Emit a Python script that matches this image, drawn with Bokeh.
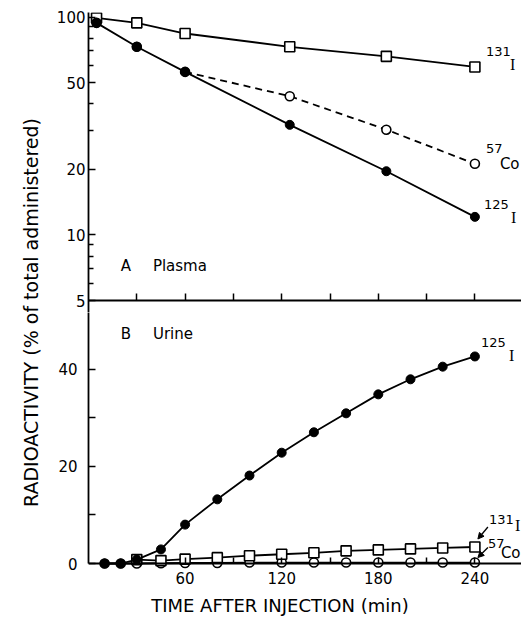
import math
from bokeh.plotting import figure
from bokeh.layouts import row, column
from bokeh.models import (Range1d, LinearAxis, FixedTicker, Label, Arrow,
                          NormalHead, BasicTickFormatter)
from bokeh.embed import file_html
from bokeh.resources import INLINE

# ---------------- data ----------------
plasma_time = [5, 30, 60, 125, 185, 240]
plasma_i131 = [99, 94, 84, 73, 66, 59]
plasma_i125 = [94, 73, 56, 32, 19.6, 12.1]
plasma_co57 = [94, 73, 56, 43.3, 30.4, 21.2]

NA = float("nan")
urine_time = [10, 20, 30, 45, 60, 80, 100, 120, 140, 160, 180, 200, 220, 240]
urine_i125 = [0, 0, 0.8, 2.9, 8.0, 13.2, 18.1, 22.8, 27.0, 30.9, 34.8, 37.9, 40.5, 42.6]
urine_i131 = [NA, NA, 0.8, 0.6, 0.9, 1.2, 1.6, 1.9, 2.2, 2.6, 2.8, 3.0, 3.2, 3.4]
urine_co57 = [0, 0, 0, 0.05, 0.1, 0.1, 0.2, 0.2, 0.2, 0.2, 0.2, 0.2, 0.2, 0.2]

x_ticks = [60, 120, 180, 240]
x_minor = [30, 90, 150, 210]
plasma_ticks = [5, 10, 20, 50, 100]
plasma_minor = [6, 7, 8, 9, 30, 40, 60, 70, 80, 90]
urine_ticks = [0, 20, 40]
urine_minor = [10, 30]

# ---------------- geometry ----------------
FONT = "DejaVu Sans"
TITLE_W = 46
LEFT = 42
FRAME_W = 433
PX_X = 1.61
PX_Y = 4.86
DEC = 217.9
GAP = 12                     # px of the plasma frame below the "5" line
TOP_H = 288 + GAP
BOT_H = 271 - GAP
x_range = Range1d(0, FRAME_W / PX_X)
LOG_TOP = 5 * 10 ** (288 / DEC)
LOG_BOT = 5 / 10 ** (GAP / DEC)
U_START = -8 / PX_Y
U_END = (BOT_H - 8) / PX_Y


def style_axis(ax, tick_in=7, minor_in=5, standoff=4):
    ax.axis_line_width = 1.8
    ax.axis_line_color = "black"
    ax.major_tick_in = tick_in
    ax.major_tick_out = 0
    ax.minor_tick_in = minor_in
    ax.minor_tick_out = 0
    ax.major_tick_line_width = 1.5
    ax.minor_tick_line_width = 1.5
    ax.major_label_text_font = FONT
    ax.major_label_text_font_size = "15px"
    ax.major_label_text_color = "black"
    ax.major_label_standoff = standoff


def lab(fig, text, x, y, xo=0, yo=0, size="15px", font=FONT, align="left", angle=0):
    fig.add_layout(Label(x=x, y=y, x_offset=xo, y_offset=yo, text=text,
                         text_font=font, text_font_size=size, text_color="black",
                         text_align=align, text_baseline="middle", angle=angle))


LW = 1.8
SUP = "13px"
SERIF = "Liberation Serif"
SQ, CI = 10, 9

# ================= top panel: plasma (log) =================
top = figure(frame_width=FRAME_W, frame_height=TOP_H, x_range=x_range,
             y_range=Range1d(LOG_BOT, LOG_TOP), y_axis_type="log",
             x_axis_location=None, y_axis_location=None,
             toolbar_location=None, output_backend="svg",
             min_border_left=LEFT, min_border_right=0, min_border_top=12,
             min_border_bottom=0, outline_line_color=None)
top.grid.visible = False

ty = LinearAxis(ticker=FixedTicker(ticks=plasma_ticks, minor_ticks=plasma_minor),
                formatter=BasicTickFormatter(use_scientific=False),
                bounds=(LOG_BOT, LOG_TOP))
style_axis(ty, 7, 5, 3)
top.add_layout(ty, "left")

# panel boundary at 5 % with upward ticks
tx = LinearAxis(ticker=FixedTicker(ticks=x_minor + x_ticks, minor_ticks=[]),
                fixed_location=5,
                major_label_overrides={t: "" for t in x_minor + x_ticks})
style_axis(tx, 7, 0, 0)
tx.axis_line_width = 2
tx.major_label_text_font_size = "0px"
top.add_layout(tx, "below")

top.line(plasma_time, plasma_i131, line_width=LW, color="black")
top.line(plasma_time[2:], plasma_co57[2:], line_width=LW, color="black", line_dash="7 5")
top.line(plasma_time, plasma_i125, line_width=LW, color="black")
top.scatter(plasma_time, plasma_i131, marker="square", size=SQ,
            fill_color="white", line_color="black", line_width=1.6)
top.scatter(plasma_time, plasma_co57, marker="circle", size=CI,
            fill_color="white", line_color="black", line_width=1.6)
top.scatter(plasma_time, plasma_i125, marker="circle", size=CI,
            fill_color="black", line_color="black")

lab(top, "131", plasma_time[-1], plasma_i131[-1], 11, 15, SUP)
lab(top, "I", plasma_time[-1], plasma_i131[-1], 35, 2, "16px", SERIF)
lab(top, "57", plasma_time[-1], plasma_co57[-1], 11, 15, SUP)
lab(top, "Co", plasma_time[-1], plasma_co57[-1], 25, 0, "15px")
lab(top, "125", plasma_time[-1], plasma_i125[-1], 9, 12, SUP)
lab(top, "I", plasma_time[-1], plasma_i125[-1], 36, -1, "16px", SERIF)
lab(top, "A", 20, 7.2)
lab(top, "Plasma", 40, 7.2)

# ================= bottom panel: urine (linear) =================
bot = figure(frame_width=FRAME_W, frame_height=BOT_H, x_range=x_range,
             y_range=Range1d(U_START, U_END),
             x_axis_location=None, y_axis_location=None,
             toolbar_location=None, output_backend="svg",
             min_border_left=LEFT, min_border_right=0, min_border_top=0,
             min_border_bottom=18, outline_line_color=None)
bot.grid.visible = False

by = LinearAxis(ticker=FixedTicker(ticks=urine_ticks, minor_ticks=urine_minor),
                bounds=(0, U_END))
style_axis(by, 7, 7, 11)
bot.add_layout(by, "left")

# baseline at 0 with inward ticks
bx0 = LinearAxis(ticker=FixedTicker(ticks=x_minor + x_ticks, minor_ticks=[]),
                 fixed_location=0,
                 major_label_overrides={t: "" for t in x_minor + x_ticks})
style_axis(bx0, 6, 0, 0)
bx0.major_label_text_font_size = "0px"
bot.add_layout(bx0, "below")

# tick labels row
bx = LinearAxis(ticker=FixedTicker(ticks=x_ticks, minor_ticks=[]))
style_axis(bx, 0, 0, 0)
bx.axis_line_color = None
bx.major_tick_line_color = None
bot.add_layout(bx, "below")

bot.line(urine_time, urine_co57, line_width=LW, color="black")
bot.line(urine_time, urine_i131, line_width=LW, color="black")
bot.line(urine_time, urine_i125, line_width=LW, color="black")
bot.scatter(urine_time, urine_co57, marker="circle", size=CI,
            fill_color="white", line_color="black", line_width=1.6)
bot.scatter(urine_time, urine_i131, marker="square", size=SQ,
            fill_color="white", line_color="black", line_width=1.6)
bot.scatter(urine_time, urine_i125, marker="circle", size=CI,
            fill_color="black", line_color="black")

lab(bot, "125", urine_time[-1], urine_i125[-1], 6, 14, SUP)
lab(bot, "I", urine_time[-1], urine_i125[-1], 34, 1, "16px", SERIF)
lab(bot, "131", urine_time[-1], urine_i131[-1], 14, 27, SUP)
lab(bot, "I", urine_time[-1], urine_i131[-1], 40, 21, "16px", SERIF)
lab(bot, "57", urine_time[-1], urine_co57[-1], 13, 19, SUP)
lab(bot, "Co", urine_time[-1], urine_co57[-1], 26, 10, "15px")

head = dict(size=6, fill_color="black", line_color="black")
bot.add_layout(Arrow(end=NormalHead(**head),
                     x_start=urine_time[-1] + 13 / PX_X, y_start=urine_i131[-1] + 20 / PX_Y,
                     x_end=urine_time[-1] + 3 / PX_X, y_end=urine_i131[-1] + 8 / PX_Y,
                     line_width=1.3, line_color="black"))
bot.add_layout(Arrow(end=NormalHead(**head),
                     x_start=urine_time[-1] + 13 / PX_X, y_start=urine_co57[-1] + 15 / PX_Y,
                     x_end=urine_time[-1] + 3 / PX_X, y_end=urine_co57[-1] + 5 / PX_Y,
                     line_width=1.3, line_color="black"))

lab(bot, "B", 20, 47.3)
lab(bot, "Urine", 40, 47.3)

# ================= title strips =================
TH = 590
ytitle = figure(width=TITLE_W, height=TH, x_range=Range1d(0, TITLE_W),
                y_range=Range1d(TH, 0), x_axis_location=None, y_axis_location=None,
                toolbar_location=None, output_backend="svg", min_border=0,
                outline_line_color=None)
ytitle.grid.visible = False
lab(ytitle, "RADIOACTIVITY (% of total administered)", 30, 312, size="19px",
    align="center", angle=math.pi / 2)

XW, XH = TITLE_W + LEFT + FRAME_W, 32
xtitle = figure(width=XW, height=XH, x_range=Range1d(0, XW), y_range=Range1d(XH, 0),
                x_axis_location=None, y_axis_location=None,
                toolbar_location=None, output_backend="svg", min_border=0,
                outline_line_color=None)
xtitle.grid.visible = False
lab(xtitle, "TIME  AFTER  INJECTION  (min)", 288, 15, size="18px", align="center")

layout = column(row(ytitle, column(top, bot, spacing=0), spacing=0), xtitle, spacing=0)

open("out.html", "w").write(file_html(layout, INLINE))
